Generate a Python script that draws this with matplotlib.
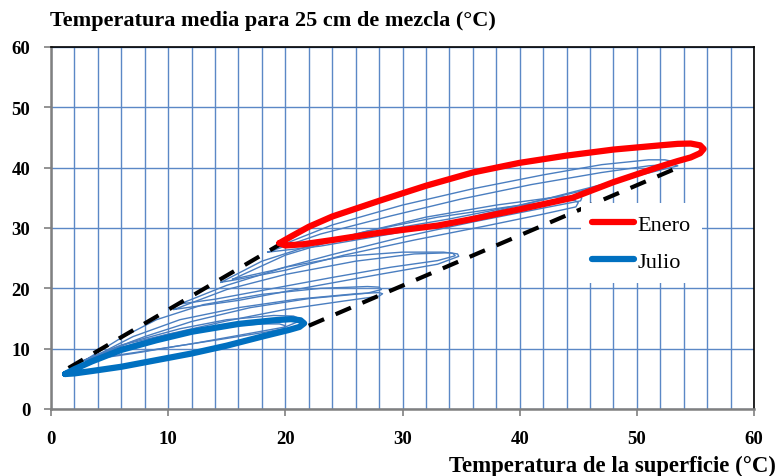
import matplotlib
matplotlib.use("Agg")
import matplotlib.pyplot as plt
from matplotlib.ticker import MultipleLocator

# ---------------- data (°C) ----------------
# Enero (thick red loop): surface temperature vs mean 25 cm temperature
enero_x = [19.5, 20.5, 22, 24, 28, 32, 36, 40, 44, 48, 52, 53.5, 54.6, 55.4, 55.7,
           55.4, 54.6, 53.5, 52, 48, 44.5, 40, 36, 33, 28, 24, 21.5, 20, 19.5]
enero_y = [27.5, 28.6, 30.2, 31.9, 34.5, 37, 39.2, 40.8, 42, 43, 43.7, 43.95, 44, 43.7, 43.1,
           42.4, 41.7, 41.1, 40.2, 37.6, 35.0, 33.1, 31.5, 30.4, 29.2, 28.0, 27.3, 27.1, 27.5]

# Julio (thick blue loop)
julio_x = [1.2, 2, 3.5, 6, 9, 12, 16, 19, 20.5, 21.3, 21.6,
           21.2, 20.3, 18, 15, 12, 9, 6, 3.5, 2, 1.2]
julio_y = [5.8, 6.6, 7.9, 9.8, 11.4, 12.8, 14.1, 14.7, 14.9, 14.7, 14.2,
           13.6, 13.1, 12, 10.5, 9.2, 8.1, 7.0, 6.3, 5.9, 5.8]

# other months (thin loops)
feb_x = [19.2, 24, 30, 36, 42, 47, 51, 52.4, 53.1, 53, 50, 45, 40, 34, 28, 23, 19.2]
feb_y = [26.8, 30.5, 33.8, 36.5, 38.8, 40.5, 41.3, 41.3, 41.0, 40.5, 38.8, 36, 33.8, 31.5, 29.5, 27.8, 26.8]

dic_x = [18.5, 23, 29, 35, 41, 47, 51, 53, 53.5, 52, 47, 41, 35, 29, 23, 18.5]
dic_y = [26, 29, 32, 34.8, 37.2, 39.2, 40.3, 40.6, 40.3, 39.6, 37.2, 34.2, 31.4, 29, 27, 26]

mar_x = [14.5, 18, 22, 27, 33, 39, 43.5, 44.7, 45, 44.8, 42, 37, 31, 25, 20, 16, 14.5]
mar_y = [21, 24.5, 27, 29.5, 31.8, 33.5, 34.5, 34.6, 34.2, 33.5, 32.3, 30.3, 28, 25.5, 23, 21.5, 21]

nov_x = [15.5, 20, 26, 32, 38, 43, 44.8, 45.3, 45.2, 42, 36, 30, 24, 19, 15.5]
nov_y = [21.5, 25.5, 29, 31.8, 33.8, 35.1, 35.3, 35.0, 34.5, 33.3, 31, 28.5, 25.6, 23, 21.5]

abr_x = [11, 15, 20, 25, 30, 33.5, 34.3, 34.5, 33, 29, 24, 19, 14, 11]
abr_y = [17.4, 20.5, 23.5, 25.3, 26, 26, 25.8, 25.4, 24.6, 23.5, 21.8, 20, 18.2, 17.4]

oct_x = [10.5, 15, 20, 26, 31, 34, 34.7, 34.8, 33, 28, 22, 16, 10.5]
oct_y = [16.5, 19.8, 22.3, 24.5, 25.7, 25.9, 25.7, 25.3, 24, 22.3, 20.2, 18, 16.5]

may_x = [3, 6, 9, 13, 18, 23, 27, 28, 28.2, 27, 22, 17, 12, 8, 5, 3]
may_y = [8.2, 11.8, 14.8, 17.3, 19, 20, 20.3, 20.2, 19.8, 19.2, 18.3, 16.8, 14.5, 12, 9.8, 8.2]

sep_x = [3.5, 7, 11, 16, 21, 26, 28, 28.3, 28, 25, 20, 15, 10, 6, 3.5]
sep_y = [8.5, 12, 14.8, 16.8, 18.2, 19.1, 19.3, 19.1, 18.7, 17.9, 16.5, 14.6, 12.4, 10.2, 8.5]

jun_x = [2.7, 6, 10, 14, 18, 19.5, 20, 19.8, 18.5, 15, 11, 7, 2.7]
jun_y = [8, 10.6, 12.4, 13.6, 14.1, 14.1, 13.8, 13.3, 12.8, 11.7, 10.5, 9.2, 8]

ago_x = [3.1, 7, 11, 15, 19, 20.7, 21.2, 21.0, 20, 16, 12, 8, 3.1]
ago_y = [8.2, 11.2, 13.3, 14.8, 15.5, 15.4, 15.0, 14.4, 13.6, 12.2, 10.8, 9.6, 8.2]

# envelope (dashed) lines
env_up_x = [1.5, 20]
env_up_y = [6.8, 27.8]
env_lo_x = [22, 53.5]
env_lo_y = [13.8, 40.0]

x_ticks = [0, 10, 20, 30, 40, 50, 60]
y_ticks = [0, 10, 20, 30, 40, 50, 60]

# ---------------- figure ----------------
plt.rcParams['font.family'] = ['Liberation Serif', 'DejaVu Serif']
fig = plt.figure(figsize=(7.79, 4.77), dpi=100)
ax = fig.add_axes([51/779, (477-410)/477, (754-51)/779, (410-48)/477])

grid_c = '#5B88C6'
ax.set_xlim(0, 60)
ax.set_ylim(0, 60)
ax.xaxis.set_major_locator(plt.FixedLocator(x_ticks))
ax.yaxis.set_major_locator(plt.FixedLocator(y_ticks))
ax.xaxis.set_minor_locator(MultipleLocator(2))
ax.grid(True, which='minor', axis='x', color=grid_c, lw=1.0)
ax.grid(True, which='major', axis='both', color=grid_c, lw=1.0)
ax.set_axisbelow(True)

thin_c = '#4A7EC0'
for xs, ys in [(feb_x, feb_y), (dic_x, dic_y), (mar_x, mar_y), (nov_x, nov_y),
               (abr_x, abr_y), (oct_x, oct_y), (may_x, may_y), (sep_x, sep_y),
               (jun_x, jun_y), (ago_x, ago_y)]:
    ax.plot(xs, ys, color=thin_c, lw=1.0, solid_joinstyle='round', zorder=2)

ax.plot(env_up_x, env_up_y, color='black', lw=3, dashes=(4, 3), zorder=3)
ax.plot(env_lo_x, env_lo_y, color='black', lw=3, dashes=(4, 3), zorder=3)

ax.plot(enero_x, enero_y, color='#FF0000', lw=4.5, solid_joinstyle='round',
        solid_capstyle='round', label='Enero', zorder=4)
ax.plot(julio_x, julio_y, color='#0070C0', lw=4.5, solid_joinstyle='round',
        solid_capstyle='round', label='Julio', zorder=4)

for s in ['left', 'bottom']:
    ax.spines[s].set_color('#808080')
    ax.spines[s].set_linewidth(1.8)
for s in ['top', 'right']:
    ax.spines[s].set_color('black')
    ax.spines[s].set_linewidth(1.2)

ax.tick_params(axis='both', which='major', direction='out', length=5, width=1.2,
               color='#808080', labelsize=13.5)
ax.tick_params(axis='x', which='minor', length=0)
ax.tick_params(axis='x', pad=10)
ax.tick_params(axis='y', pad=10)
for lab in ax.get_xticklabels() + ax.get_yticklabels():
    lab.set_fontweight('bold')

fig.text(50/779, 1 - 21/477, 'Temperatura media para 25 cm de mezcla (°C)',
         ha='left', va='center', fontsize=16, fontweight='bold')
fig.text(776/779, 1 - 466/477, 'Temperatura de la superficie (°C)',
         ha='right', va='center', fontsize=16.4, fontweight='bold')

leg = ax.legend(loc='center left', bbox_to_anchor=((570-51)/703, (410-244)/362),
                frameon=True, fontsize=16, handlelength=1.9, labelspacing=0.75,
                handletextpad=0.15, borderpad=0.5)
leg.get_frame().set_facecolor('white')
leg.get_frame().set_edgecolor('none')
leg.get_frame().set_alpha(1)
leg.get_frame().set_boxstyle('square', pad=0)

fig.savefig('out.png', dpi=100)
